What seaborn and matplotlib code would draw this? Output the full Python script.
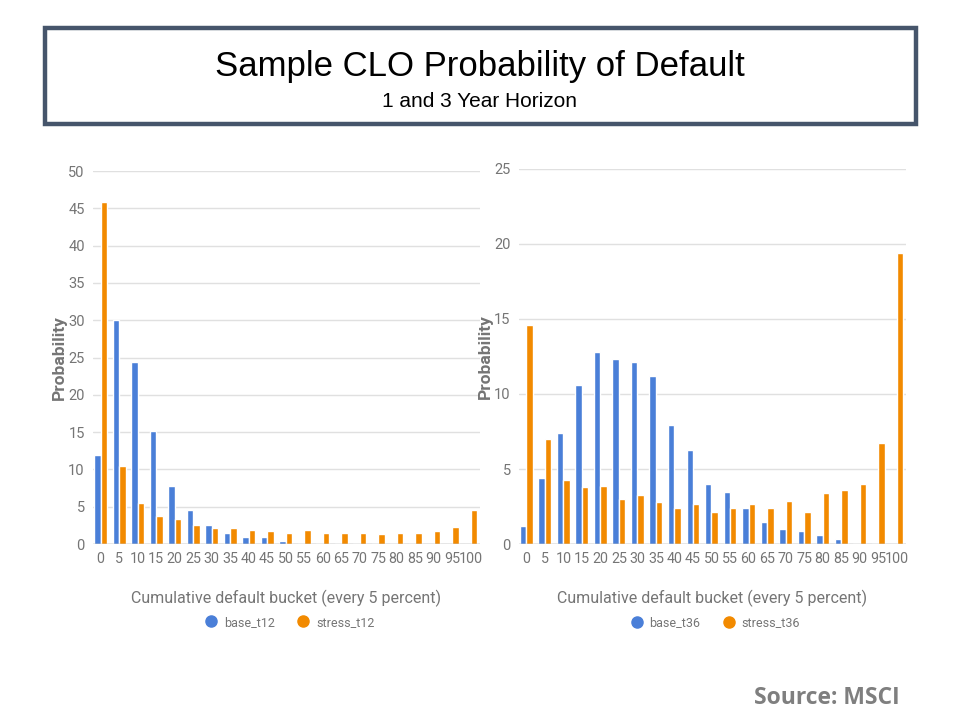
import matplotlib
matplotlib.use("Agg")
import matplotlib.pyplot as plt
import pandas as pd
import seaborn as sns
from matplotlib.lines import Line2D
from matplotlib.patches import Rectangle

# Data
buckets = [str(b) for b in range(0, 101, 5)]
base_t12 = [12.0, 30.0, 24.4, 15.2, 7.8, 4.5, 2.6, 1.5, 0.9, 0.9, 0.45,
            0.15, 0.15, 0.15, 0.15, 0.15, 0.15, 0.15, 0.0, 0.0, 0.0]
stress_t12 = [45.8, 10.5, 5.5, 3.8, 3.4, 2.6, 2.1, 2.1, 1.9, 1.7, 1.5,
              1.9, 1.5, 1.5, 1.5, 1.3, 1.5, 1.5, 1.7, 2.3, 4.6]
base_t36 = [1.2, 4.4, 7.4, 10.6, 12.8, 12.3, 12.1, 11.2, 7.9, 6.3, 4.0,
            3.5, 2.4, 1.5, 1.0, 0.9, 0.6, 0.33, 0.1, 0.1, 0.0]
stress_t36 = [14.6, 7.0, 4.3, 3.8, 3.9, 3.0, 3.3, 2.8, 2.4, 2.7, 2.15,
              2.4, 2.7, 2.4, 2.9, 2.15, 3.4, 3.6, 4.0, 6.7, 19.4]

BLUE = "#4a7fd8"
ORANGE = "#f28a00"
GREY = "#757575"

sns.set_style("white")
plt.rcParams["font.family"] = ["Roboto", "DejaVu Sans"]


def make_frame(base, stress, base_name, stress_name):
    df = pd.DataFrame({"bucket": buckets, base_name: base, stress_name: stress})
    return df.melt(id_vars="bucket", var_name="series", value_name="prob")


def draw_panel(ax, df, names, ymax, step):
    sns.barplot(data=df, x="bucket", y="prob", hue="series", hue_order=names,
                palette=[BLUE, ORANGE], width=0.7, gap=0, saturation=1,
                order=buckets, ax=ax, legend=False)
    ax.set_ylim(0, ymax)
    ax.set_xlim(-0.4, 20.5)
    ax.set_yticks(range(0, ymax + 1, step))
    ax.yaxis.grid(True, color="#e0e0e0", linewidth=1)
    ax.set_axisbelow(True)
    for s in ["top", "right", "left", "bottom"]:
        ax.spines[s].set_visible(False)
    ax.axhline(0, color="#9e9e9e", linewidth=1, zorder=3)
    ax.tick_params(axis="both", length=0, labelcolor=GREY, pad=6)
    ax.tick_params(axis="x", labelsize=10.3)
    ax.tick_params(axis="y", labelsize=10.5)
    ax.set_xlabel("Cumulative default bucket (every 5 percent)", fontsize=11.5,
                  color=GREY, labelpad=17)
    ax.set_ylabel("Probability", fontsize=12.5, color=GREY, fontweight="bold",
                  labelpad=1)
    handles = [Line2D([], [], marker="o", linestyle="", markersize=8,
                      markerfacecolor=c, markeredgecolor=c) for c in (BLUE, ORANGE)]
    ax.legend(handles, names, loc="center", bbox_to_anchor=(0.5, -0.21),
              ncol=2, frameon=False, fontsize=9, labelcolor=GREY,
              handletextpad=0.0, columnspacing=1.3)


fig = plt.figure(figsize=(9.6, 7.2), dpi=100)

# Title box
fig.patches.append(Rectangle((0.0469, 0.8278), 0.907, 0.1333, transform=fig.transFigure,
                             facecolor="white", edgecolor="#46556b", linewidth=3.2))
fig.text(0.5, 0.908, "Sample CLO Probability of Default", ha="center", va="center",
         fontsize=25, family=["Liberation Sans", "DejaVu Sans"], color="black")
fig.text(0.5, 0.859, "1 and 3 Year Horizon", ha="center", va="center",
         fontsize=15, family=["Liberation Sans", "DejaVu Sans"], color="black")

ax1 = fig.add_axes([0.097, 0.2444, 0.403, 0.518])
ax2 = fig.add_axes([0.5406, 0.2444, 0.403, 0.521])

draw_panel(ax1, make_frame(base_t12, stress_t12, "base_t12", "stress_t12"),
           ["base_t12", "stress_t12"], 50, 5)
draw_panel(ax2, make_frame(base_t36, stress_t36, "base_t36", "stress_t36"),
           ["base_t36", "stress_t36"], 25, 5)

fig.text(0.9375, 0.030, "Source: MSCI", ha="right", va="center", fontsize=16.5,
         fontweight="bold", color="#7f7f7f", family=["Open Sans", "DejaVu Sans"])

fig.savefig("out.png", dpi=100)
